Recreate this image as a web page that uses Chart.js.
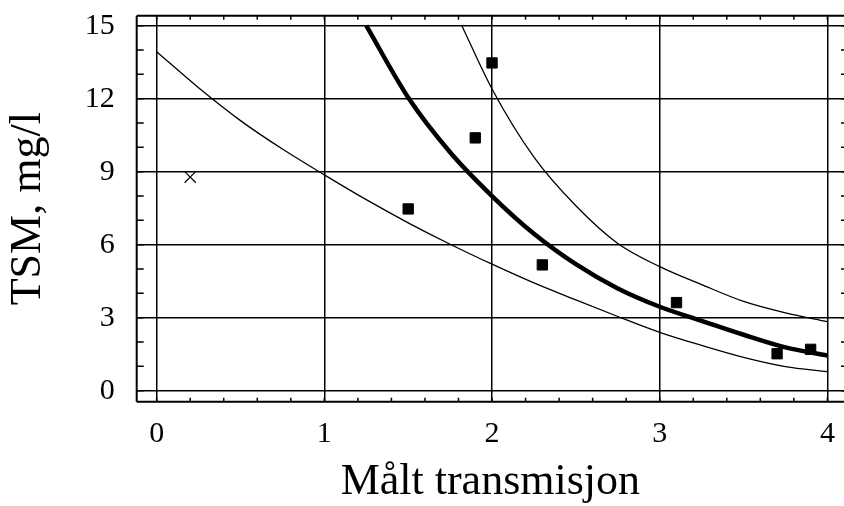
<!DOCTYPE html>
<html>
<head>
<meta charset="utf-8">
<script src="https://cdn.jsdelivr.net/npm/chart.js@4/dist/chart.umd.min.js"></script>
<style>
html,body{margin:0;padding:0;background:#fff;}
canvas{display:block;}
</style>
</head>
<body>
<canvas id="c" width="844" height="506"></canvas>
<script>
// ---- data ----
const measX = [1.5, 1.9, 2.0, 2.3, 3.1, 3.7, 3.9];
const measY = [7.47, 10.39, 13.47, 5.17, 3.62, 1.52, 1.70];
const outlierX = [0.2];
const outlierY = [8.78];

const fitX = [1.25, 1.5, 1.75, 2.0, 2.25, 2.5, 2.75, 3.0, 3.25, 3.5, 3.75, 4.0];
const fitY = [15.0, 12.05, 9.8, 8.0, 6.45, 5.2, 4.2, 3.45, 2.87, 2.3, 1.78, 1.45];

const lowX = [0, 0.25, 0.5, 0.75, 1.0, 1.25, 1.5, 1.75, 2.0, 2.25, 2.5, 2.75, 3.0, 3.25, 3.5, 3.75, 4.0];
const lowY = [13.93, 12.45, 11.1, 9.93, 8.87, 7.85, 6.9, 6.02, 5.2, 4.43, 3.73, 3.05, 2.4, 1.86, 1.37, 0.99, 0.78];

const upX = [1.82, 2.0, 2.25, 2.5, 2.75, 3.0, 3.25, 3.5, 3.75, 4.0];
const upY = [15.0, 12.4, 9.6, 7.6, 6.05, 5.1, 4.36, 3.67, 3.2, 2.84];

const xTicks = [0, 1, 2, 3, 4];
const yTicks = [0, 3, 6, 9, 12, 15];
const xTitle = 'Målt transmisjon';
const yTitle = 'TSM, mg/l';

const pts = (xs, ys) => xs.map((x, i) => ({x: x, y: ys[i]}));

const SERIF = '"Liberation Serif", "Times New Roman", serif';

const framePlugin = {
  id: 'frame',
  afterDraw(chart) {
    const {ctx, chartArea: a, scales: {x, y}} = chart;
    ctx.save();
    ctx.strokeStyle = '#000';
    ctx.lineWidth = 2;
    ctx.beginPath();
    ctx.moveTo(a.left, a.top); ctx.lineTo(a.right, a.top);
    ctx.moveTo(a.left, a.top); ctx.lineTo(a.left, a.bottom);
    ctx.moveTo(a.left, a.bottom); ctx.lineTo(a.right, a.bottom);
    ctx.stroke();
    ctx.lineWidth = 1.5;
    ctx.beginPath();
    for (let i = 0; i <= 25; i++) {
      const v = i * 0.2;
      if (v < x.min || v > x.max) continue;
      const px = x.getPixelForValue(v);
      ctx.moveTo(px, a.bottom); ctx.lineTo(px, a.bottom - 4);
      ctx.moveTo(px, a.top); ctx.lineTo(px, a.top + 4);
    }
    for (let v = 0; v <= 15; v++) {
      const py = y.getPixelForValue(v);
      ctx.moveTo(a.left, py); ctx.lineTo(a.left + 7, py);
      ctx.moveTo(a.right + 4, py); ctx.lineTo(a.right - 3, py);
    }
    ctx.stroke();
    ctx.restore();
  }
};

const noPad = s => { s.paddingLeft = 0; s.paddingRight = 0; s.paddingTop = 0; s.paddingBottom = 0; };

new Chart(document.getElementById('c'), {
  type: 'scatter',
  data: {
    datasets: [
      {data: pts(lowX, lowY), showLine: true, borderColor: '#000', borderWidth: 1.3, pointRadius: 0, cubicInterpolationMode: 'monotone', fill: false},
      {data: pts(upX, upY), showLine: true, borderColor: '#000', borderWidth: 1.3, pointRadius: 0, cubicInterpolationMode: 'monotone', fill: false},
      {data: pts(fitX, fitY), showLine: true, borderColor: '#000', borderWidth: 4.5, pointRadius: 0, cubicInterpolationMode: 'monotone', fill: false},
      {data: pts(measX, measY), pointStyle: 'rect', pointRadius: 7.3, backgroundColor: '#000', borderColor: '#000', borderWidth: 1},
      {data: pts(outlierX, outlierY), pointStyle: 'crossRot', pointRadius: 8, borderColor: '#000', borderWidth: 1.2}
    ]
  },
  options: {
    responsive: false,
    animation: false,
    devicePixelRatio: 1,
    layout: {autoPadding: false, padding: {left: 0, top: 15.7, right: 0, bottom: 0}},
    plugins: {legend: {display: false}, tooltip: {enabled: false}},
    scales: {
      x: {
        type: 'linear',
        min: -0.119,
        max: 4.099,
        afterBuildTicks: s => { s.ticks = xTicks.map(v => ({value: v})); },
        afterFit: s => { s.height = 104.3; noPad(s); },
        grid: {color: '#000', lineWidth: 1.5, drawTicks: false},
        border: {display: false},
        ticks: {color: '#000', font: {family: SERIF, size: 30}, padding: 14, maxRotation: 0},
        title: {display: true, text: xTitle, color: '#000', font: {family: SERIF, size: 44, lineHeight: 1}, padding: {top: 0, bottom: 2}}
      },
      y: {
        type: 'linear',
        min: -0.452,
        max: 15.411,
        afterBuildTicks: s => { s.ticks = yTicks.map(v => ({value: v})); },
        afterFit: s => { s.width = 136.7; noPad(s); },
        grid: {color: '#000', lineWidth: 1.5, drawTicks: false},
        border: {display: false},
        ticks: {color: '#000', font: {family: SERIF, size: 30}, padding: 22},
        title: {display: true, text: yTitle, color: '#000', font: {family: SERIF, size: 44, lineHeight: 1}, padding: {top: 6, bottom: 0}}
      }
    }
  },
  plugins: [framePlugin]
});
</script>
</body>
</html>
